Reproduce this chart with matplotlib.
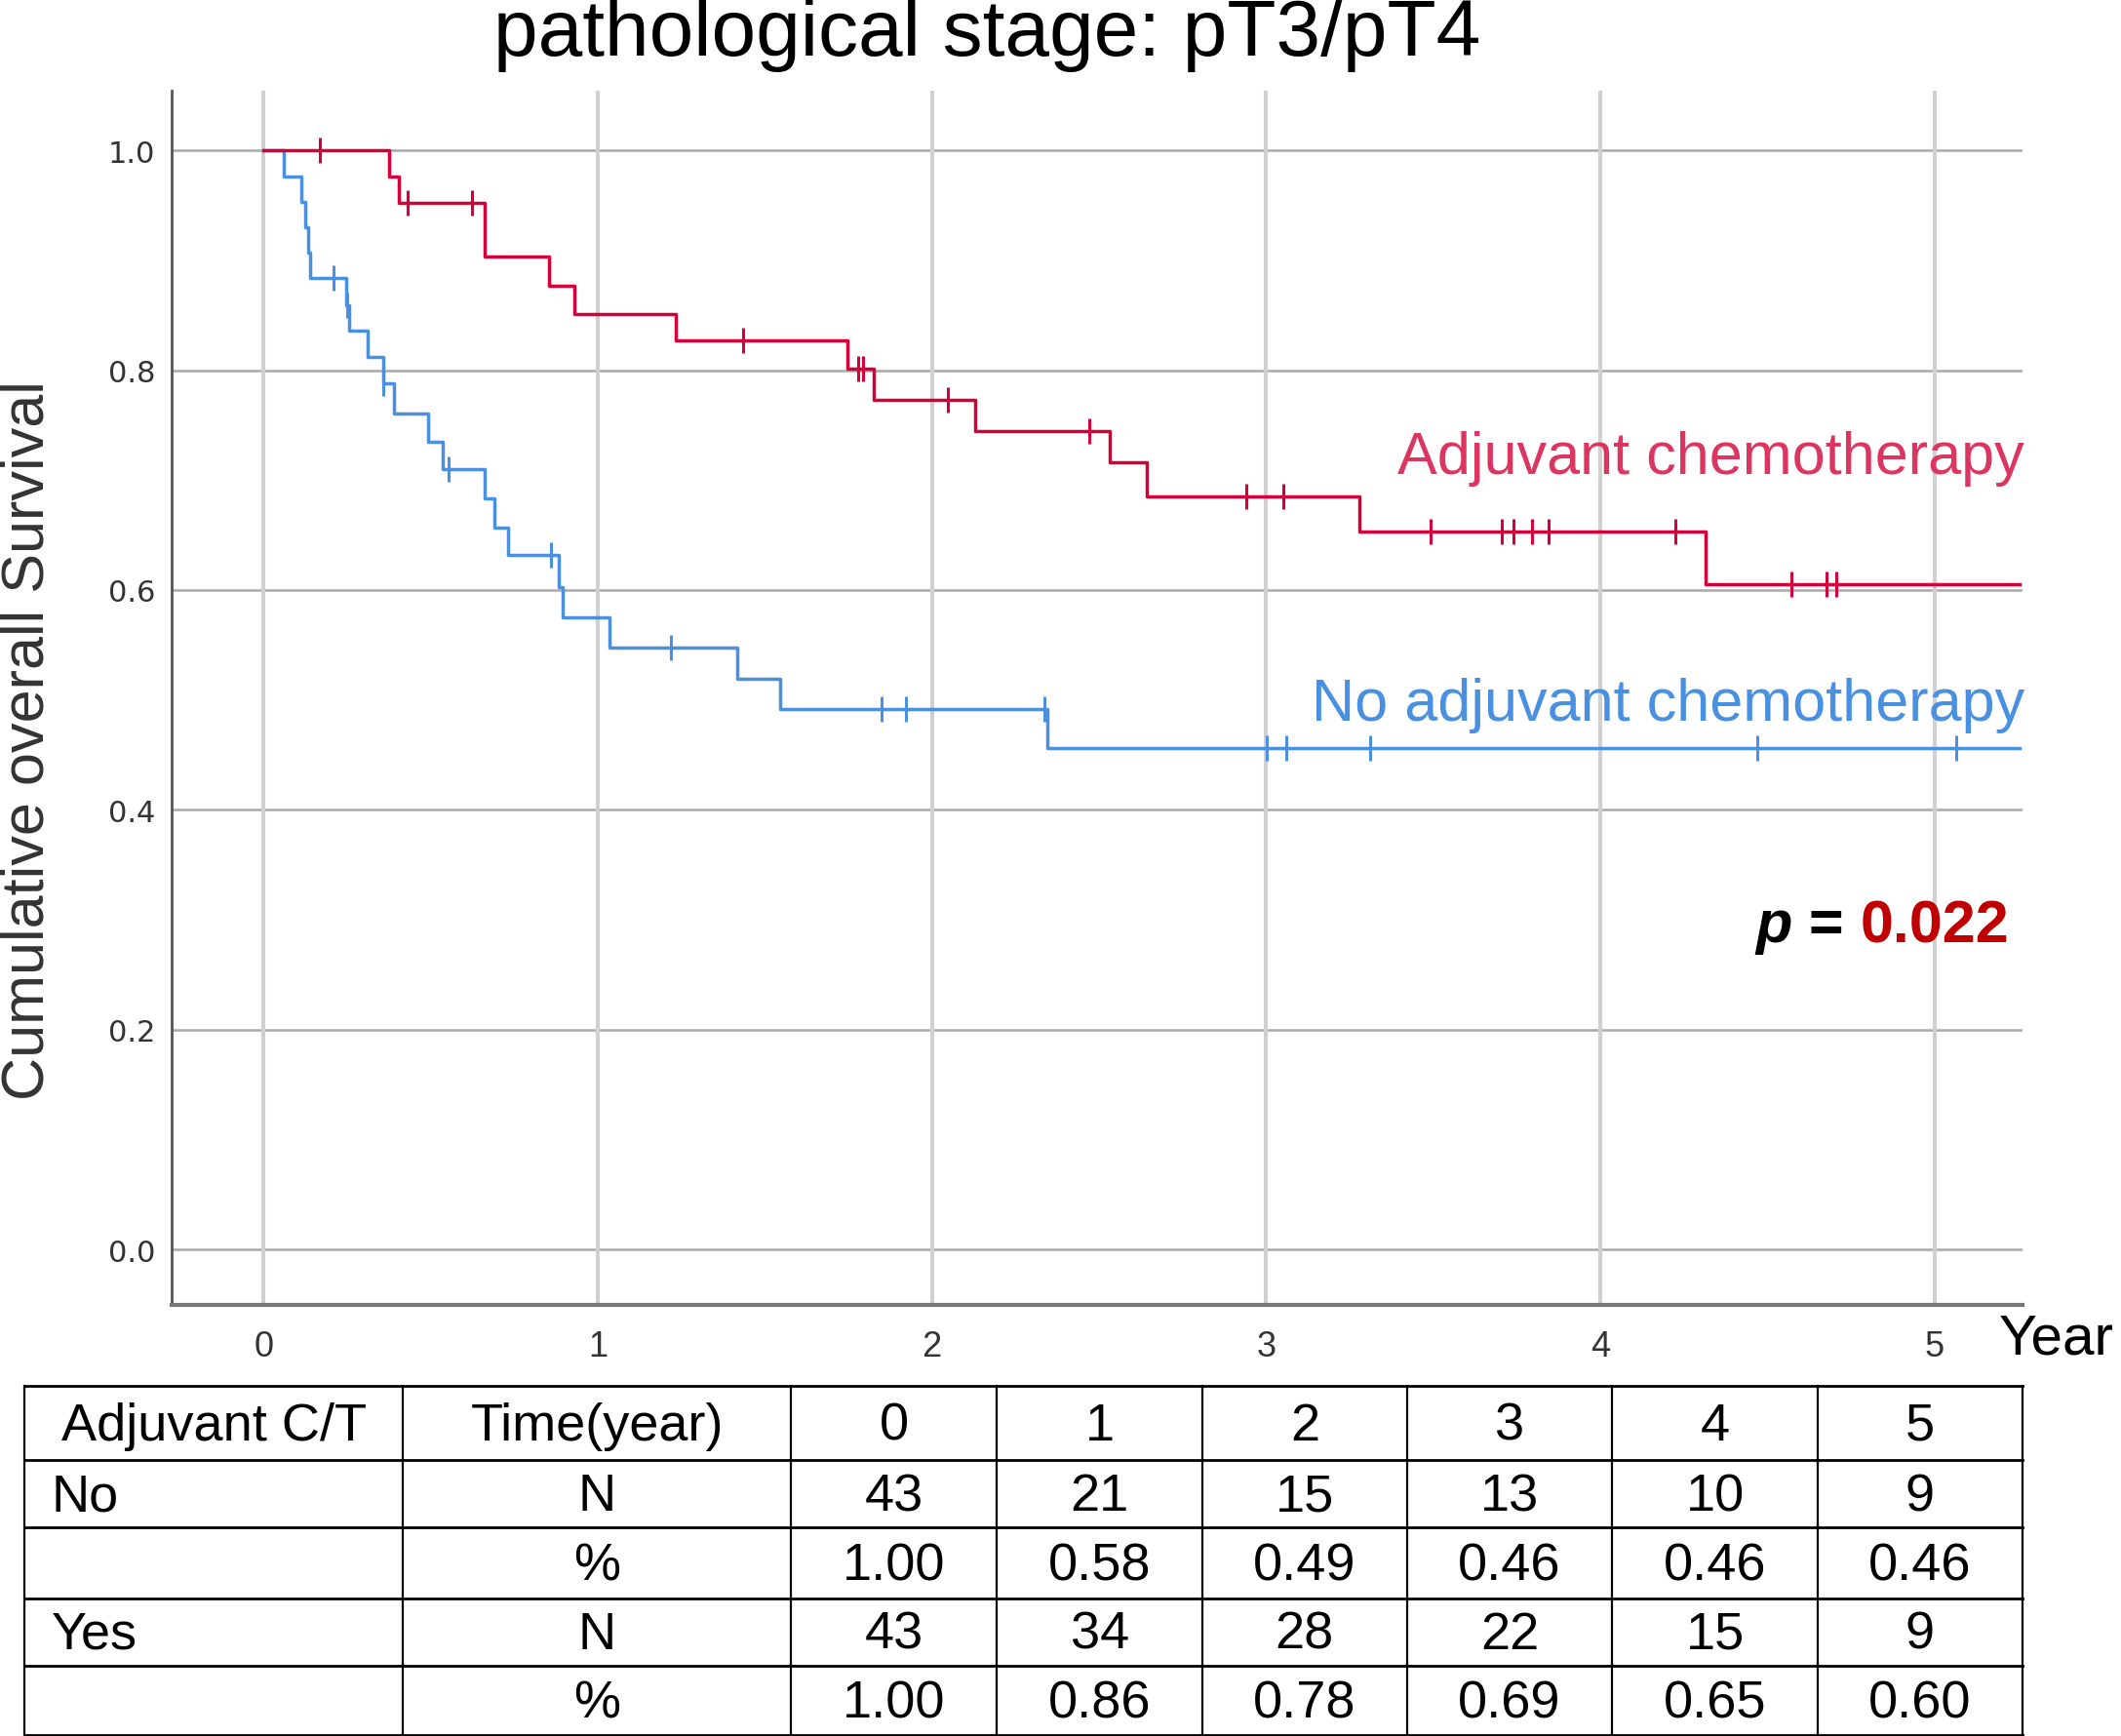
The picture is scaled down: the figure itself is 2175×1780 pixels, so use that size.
import numpy as np
import matplotlib
matplotlib.use("Agg")
import matplotlib.pyplot as plt

# ---------------- data ----------------
# Adjuvant chemotherapy (red)
yes_event_times = [0.375, 0.405, 0.66, 0.855, 0.929, 1.232, 1.747, 1.827, 2.13, 2.532, 2.642, 3.28, 4.316]
yes_event_surv = [0.976, 0.952, 0.903, 0.877, 0.851, 0.827, 0.801, 0.773, 0.745, 0.716, 0.685, 0.653, 0.605]
yes_censor_times = [0.167, 0.43, 0.623, 1.435, 1.78, 1.795, 2.048, 2.472, 2.942, 3.052, 3.492,
                    3.706, 3.74, 3.796, 3.846, 4.226, 4.572, 4.676, 4.706]

# No adjuvant chemotherapy (blue)
no_event_times = [0.059, 0.112, 0.125, 0.134, 0.140, 0.247, 0.257, 0.31, 0.357, 0.39, 0.493, 0.535,
                  0.66, 0.691, 0.732, 0.883, 0.896, 1.035, 1.416, 1.546, 2.346]
no_event_surv = [0.976, 0.953, 0.930, 0.907, 0.884, 0.859, 0.836, 0.812, 0.788, 0.761, 0.735, 0.710,
                 0.683, 0.657, 0.632, 0.603, 0.575, 0.548, 0.519, 0.492, 0.456]
no_censor_times = [0.21, 0.25, 0.359, 0.554, 0.859, 1.219, 1.85, 1.922, 2.336, 3.002, 3.06, 3.31, 4.47, 5.066]

follow_up_end = 5.256

# Table
table_years = [0, 1, 2, 3, 4, 5]
no_n = [43, 21, 15, 13, 10, 9]
no_pct = [1.00, 0.58, 0.49, 0.46, 0.46, 0.46]
yes_n = [43, 34, 28, 22, 15, 9]
yes_pct = [1.00, 0.86, 0.78, 0.69, 0.65, 0.60]

title = "pathological stage: pT3/pT4"
label_yes = "Adjuvant chemotherapy"
label_no = "No adjuvant chemotherapy"
p_value = "0.022"

# ---------------- style ----------------
RED_LINE = "#d4003a"
RED_TEXT = "#dc3560"
BLUE_LINE = "#4a8fe0"
BLUE_TEXT = "#4a90e2"
FONT = "Liberation Sans"

W, H = 1568.0, 1284.0  # layout reference units
fig = plt.figure(figsize=(21.75, 17.81), dpi=100)

ax = fig.add_axes([127 / W, 1 - 965 / H, (1495 - 127) / W, (965 - 68) / H])
ax.set_xlim(-0.275, 5.263)
ax.set_ylim(-0.05, 1.054)


def step_values(ev_t, ev_s, times):
    idx = np.searchsorted(np.asarray(ev_t), np.asarray(times), side="right")
    s = np.concatenate([[1.0], ev_s])
    return s[idx]


for ev_t, ev_s, cens, col in [(no_event_times, no_event_surv, no_censor_times, BLUE_LINE),
                              (yes_event_times, yes_event_surv, yes_censor_times, RED_LINE)]:
    xs = np.concatenate([[0.0], ev_t, [follow_up_end]])
    ys = np.concatenate([[1.0], ev_s, [ev_s[-1]]])
    ax.step(xs, ys, where="post", color=col, lw=2.5, zorder=4)
    ax.plot(cens, step_values(ev_t, ev_s, cens), linestyle="none", marker="|",
            markersize=19, mew=2.2, color=col, zorder=5)

# grid
for yv in np.arange(0, 1.01, 0.2):
    ax.axhline(yv, color="#a9a9a9", lw=1.8, zorder=1)
for xv in range(0, 6):
    ax.axvline(xv, color="#d0d0d0", lw=3.0, zorder=1)

for s in ["top", "right"]:
    ax.spines[s].set_visible(False)
ax.spines["left"].set_color("#555555")
ax.spines["left"].set_linewidth(2.0)
ax.spines["bottom"].set_color("#777777")
ax.spines["bottom"].set_linewidth(3.0)

ax.set_yticks(np.arange(0, 1.01, 0.2))
ax.set_yticklabels([f"{v:.1f}" for v in np.arange(0, 1.01, 0.2)], fontfamily="DejaVu Sans",
                   fontsize=22, color="#333333")
ax.set_xticks(range(0, 6))
ax.set_xticklabels([str(v) for v in range(0, 6)], fontfamily=FONT, fontsize=26, color="#333333")
ax.tick_params(axis="y", length=0, pad=12)
ax.tick_params(axis="x", length=0, pad=18)

ax.text(5.27, 0.72, label_yes, color=RED_TEXT, fontsize=44, fontfamily=FONT,
        ha="right", va="center", zorder=6)
ax.text(5.27, 0.496, label_no, color=BLUE_TEXT, fontsize=44, fontfamily=FONT,
        ha="right", va="center", zorder=6)

# p = 0.022 (assembled right to left)
fig.canvas.draw()
inv = ax.transData.inverted()
x_right = 5.223
for s, color, style in [(p_value, "#c00000", "normal"), ("= ", "black", "normal"), ("p ", "black", "italic")]:
    t = ax.text(x_right, 0.294, s, color=color, fontsize=44, fontweight="bold", fontstyle=style,
                fontfamily=FONT, ha="right", va="center", zorder=6)
    bb = t.get_window_extent(renderer=fig.canvas.get_renderer())
    x_right = inv.transform((bb.x0, bb.y0))[0]

fig.text(730 / W, 1 - 26 / H, title, fontsize=59, fontfamily=FONT, ha="center", va="center")
fig.text(21 / W, 1 - 547 / H, "Cumulative overall Survival", fontsize=44, fontfamily=FONT,
         color="#333333", rotation=90, ha="center", va="center")
fig.text(1478 / W, 1 - 990 / H, "Year", fontsize=42, fontfamily=FONT, ha="left", va="center")

# ---------------- table ----------------
col_edges = [18, 298, 585, 737, 889, 1040, 1192, 1344, 1495]
row_edges = [1025, 1080, 1130, 1182, 1232, 1283]
tax = fig.add_axes([0, 0, 1, 1])
tax.set_xlim(0, W)
tax.set_ylim(H, 0)
tax.axis("off")
for yv in row_edges:
    tax.plot([col_edges[0], col_edges[-1]], [yv, yv], color="black", lw=2.0, clip_on=False)
for xv in col_edges:
    tax.plot([xv, xv], [row_edges[0], row_edges[-1]], color="black", lw=1.6, clip_on=False)

TFS = 39
def cell(r, c, s, ha="center"):
    yc = (row_edges[r] + row_edges[r + 1]) / 2 + 2
    if ha == "center":
        xc = (col_edges[c] + col_edges[c + 1]) / 2
    else:
        xc = col_edges[c] + 20
    tax.text(xc, yc, s, fontsize=TFS, fontfamily=FONT, ha=ha, va="center")

cell(0, 0, "Adjuvant C/T")
cell(0, 1, "Time(year)")
for i, yv in enumerate(table_years):
    cell(0, 2 + i, str(yv))
cell(1, 0, "No", ha="left")
cell(1, 1, "N")
cell(2, 1, "%")
cell(3, 0, "Yes", ha="left")
cell(3, 1, "N")
cell(4, 1, "%")
for i in range(len(table_years)):
    cell(1, 2 + i, str(no_n[i]))
    cell(2, 2 + i, f"{no_pct[i]:.2f}")
    cell(3, 2 + i, str(yes_n[i]))
    cell(4, 2 + i, f"{yes_pct[i]:.2f}")

fig.savefig("out.png", dpi=100)
